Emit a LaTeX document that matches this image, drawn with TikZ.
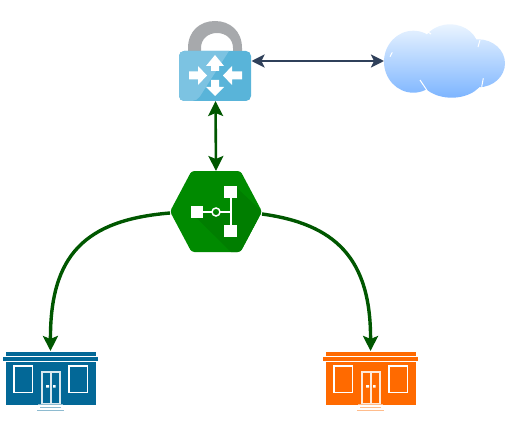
\documentclass[tikz,border=0pt]{standalone}
\usetikzlibrary{arrows.meta}
\definecolor{navyline}{HTML}{2F405A}
\definecolor{hubgreen}{HTML}{008A00}
\definecolor{hubshade}{HTML}{007E00}
\definecolor{linkgreen}{HTML}{005700}
\definecolor{vpnblue}{HTML}{59B4D9}
\definecolor{vpnlight}{HTML}{7CC3E2}
\definecolor{lockgrey}{HTML}{A7A9AC}
\definecolor{cloudtop}{HTML}{EAF4FF}
\definecolor{cloudbottom}{HTML}{7DB5FF}
\definecolor{sitesteel}{HTML}{036897}
\definecolor{siteorange}{HTML}{FF6A00}
\tikzset{
  iconbox/.style={inner sep=0pt, outer sep=0pt},
  navylink/.style={navyline, line width=2.6pt, {Stealth[length=13pt,width=13pt,inset=3pt]}-{Stealth[length=13pt,width=13pt,inset=3pt]}},
  greenlink/.style={linkgreen, line width=2.6pt, {Stealth[length=15pt,width=15pt,inset=3pt]}-{Stealth[length=15pt,width=15pt,inset=3pt]}},
  sitelink/.style={linkgreen, line width=3.4pt, -{Stealth[length=15pt,width=15pt,inset=3pt]}},
  pics/storefront/.style={code={
    \fill[#1] (6,352) rectangle (96,356);
    \fill[#1] (3,357) rectangle (98,361);
    \fill[#1] (6,362) rectangle (96,405);
    \draw[white, line width=1.6pt] (14,366) rectangle (32.5,392.5);
    \draw[white, line width=1.6pt] (69,366) rectangle (87.5,392.5);
    \draw[white!85!#1, line width=1.2pt] (42,372) rectangle (60,403.5) (51,372) -- (51,403.5);
    \fill[white] (46,385) rectangle (49,387.5) (53,385) rectangle (55.5,387.5);
    \draw[#1!45, line width=1pt] (38,404.5) -- (63,404.5) (40,407) -- (61,407) (37,410.5) -- (64,410.5);
  }}
}
\begin{document}
\begin{tikzpicture}[x=1pt,y=-1pt]
    \useasboundingbox (0,0) rectangle (509,436);

    % vpn gateway
    \fill[lockgrey] (188,52) -- (188,48) .. controls (188,31) and (200,21) .. (215,21) .. controls (230,21) and (242,31) .. (242,48)
      -- (242,52) -- (233,52) -- (233,48) .. controls (233,39) and (226,33) .. (217,33) .. controls (208,33) and (201,39) .. (201,48) -- (201,52) -- cycle;
    \fill[vpnblue, rounded corners=5pt] (179,51) rectangle (251,101);
    \fill[vpnlight, rounded corners=5pt] (229,51) -- (179,51) -- (179,101) -- (197,101) [sharp corners] -- cycle;
    \fill[white] (215,55) -- (224,66) -- (219,66) -- (219,71) -- (211,71) -- (211,66) -- (206,66) -- cycle;
    \fill[white] (215,96) -- (224,87) -- (219,87) -- (219,80) -- (211,80) -- (211,87) -- (206,87) -- cycle;
    \fill[white] (207,75.5) -- (198,66) -- (198,71.5) -- (189,71.5) -- (189,79.5) -- (198,79.5) -- (198,85) -- cycle;
    \fill[white] (223,75.5) -- (232,66) -- (232,71.5) -- (242,71.5) -- (242,79.5) -- (232,79.5) -- (232,85) -- cycle;
    \node[iconbox, minimum width=72pt, minimum height=50pt] (vpn) at (215.5,76) {};

    % cloud
    \shade[top color=cloudtop, bottom color=cloudbottom]
      (450,48.3) ellipse[x radius=28.3, y radius=24]
      (451.7,75) ellipse[x radius=32.7, y radius=22.7]
      (413.3,61.7) ellipse[x radius=29.3, y radius=31]
      (478.3,63.3) ellipse[x radius=26.7, y radius=24];
    \draw[white, line width=1pt] (425,30) -- (431,34) (478,47) -- (480,40) (481.7,86.7) -- (483.3,78.3)
      (420,80) -- (426.7,90) (390,56.7) -- (392.3,52.3);
    \node[iconbox, minimum width=121pt, minimum height=74pt] (cloud) at (444.5,61) {};

    % hub
    \fill[hubgreen, rounded corners=3pt] (170,211.5) -- (191.5,171) -- (240.5,171) -- (262,211.5) -- (240.5,252) -- (191.5,252) -- cycle;
    \begin{scope}
      \clip[rounded corners=3pt] (170,211.5) -- (191.5,171) -- (240.5,171) -- (262,211.5) -- (240.5,252) -- (191.5,252) -- cycle;
      \fill[hubshade] (196,217.5) -- (232,253) -- (262,253) -- (262,211.5) -- (237,188) -- (231,198) -- (231,212) -- (202,212) -- cycle;
    \end{scope}
    \fill[white] (191,206) rectangle (202.5,217.5);
    \fill[white] (224,186) rectangle (237,198);
    \fill[white] (224,225) rectangle (237,237);
    \draw[white, line width=1.5pt] (202,212) -- (212,212) (220,212) -- (231,212) (231,198) -- (231,225);
    \draw[white, line width=1.5pt] (216,212) circle[radius=4];
    \node[iconbox, minimum width=92pt, minimum height=81pt] (hub) at (216,211.5) {};

    % sites
    \pic {storefront=sitesteel};
    \pic at (320,0) {storefront=siteorange};
    \node[iconbox, minimum width=95pt, minimum height=60pt] (westsite) at (50.5,381) {};
    \node[iconbox, minimum width=95pt, minimum height=60pt] (eastsite) at (370.5,381) {};

    \draw[navylink] (vpn.east |- 0,61) -- (cloud.west |- 0,61);
    \draw[greenlink] (vpn.south) -- (hub.north);
    \draw[sitelink] (hub.west |- 0,213) .. controls (85,220) and (50,255) .. (westsite.north);
    \draw[sitelink] (hub.east |- 0,214) .. controls (335,224) and (371,258) .. (eastsite.north);

\end{tikzpicture}
\end{document}
